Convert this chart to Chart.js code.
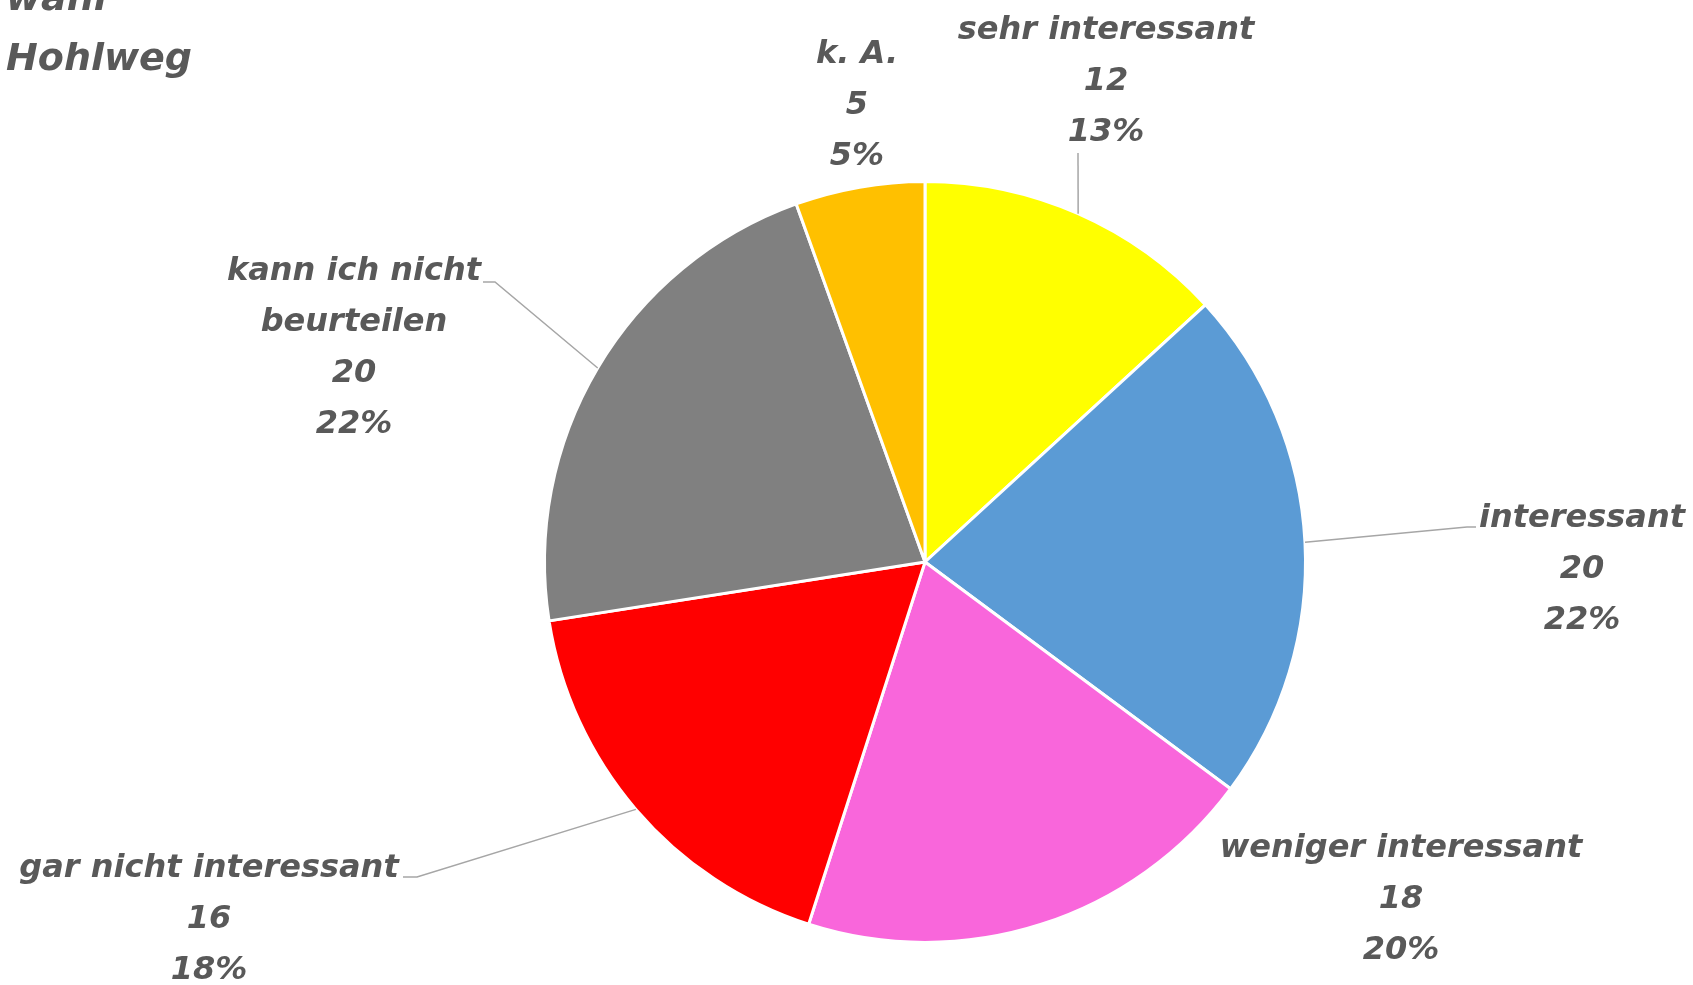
<!DOCTYPE html>
<html>
<head>
<meta charset="utf-8">
<script src="https://cdn.jsdelivr.net/npm/chart.js@4.4.1/dist/chart.umd.min.js"></script>
<style>
    html, body { margin: 0; padding: 0; background: #fff; }
    #wrap { width: 1693px; height: 985px; position: relative; }
</style>
</head>
<body>
<div id="wrap"><canvas id="pie"></canvas></div>
<script>
// Chart data
const categories = ['sehr interessant', 'interessant', 'weniger interessant', 'gar nicht interessant', ['kann ich nicht', 'beurteilen'], 'k. A.'];
const counts = [12, 20, 18, 16, 20, 5];
const sliceColors = ['#FFFF00', '#5B9BD5', '#F966DB', '#FF0000', '#808080', '#FFC000'];
const titleLines = ['wahl', 'Hohlweg'];

const textColor = '#595959';
const labelFont = 'italic bold 32px "DejaVu Sans"';
const lineGap = 51;

// label spot: centre x, centre y of first line, and leader bend points (last one joins the slice)
const labelSpots = [
    { x: 1106, y: 31, leader: [[1078, 153]] },
    { x: 1582, y: 519, leader: [[1476, 527], [1467, 527]] },
    { x: 1401, y: 849, leader: null },
    { x: 209, y: 869, leader: [[403, 877], [417, 877]] },
    { x: 354, y: 272, leader: [[483, 282], [495, 282]] },
    { x: 857, y: 55, leader: null }
];

const labelPlugin = {
    id: 'pieLabels',
    afterDatasetsDraw(chart) {
        const ctx = chart.ctx;
        const meta = chart.getDatasetMeta(0);
        const total = counts.reduce((a, b) => a + b, 0);
        ctx.save();

        // leader lines
        ctx.strokeStyle = '#A6A6A6';
        ctx.lineWidth = 1.5;
        meta.data.forEach((arc, i) => {
            const spot = labelSpots[i];
            if (!spot.leader) return;
            const mid = (arc.startAngle + arc.endAngle) / 2;
            const ex = arc.x + Math.cos(mid) * arc.outerRadius;
            const ey = arc.y + Math.sin(mid) * arc.outerRadius;
            ctx.beginPath();
            ctx.moveTo(spot.leader[0][0], spot.leader[0][1]);
            spot.leader.slice(1).forEach(p => ctx.lineTo(p[0], p[1]));
            ctx.lineTo(ex, ey);
            ctx.stroke();
        });

        // label texts
        ctx.fillStyle = textColor;
        ctx.font = labelFont;
        ctx.textAlign = 'center';
        ctx.textBaseline = 'middle';
        counts.forEach((v, i) => {
            const name = [].concat(categories[i]);
            const lines = [...name, String(v), Math.round(v / total * 100) + '%'];
            lines.forEach((t, k) => {
                ctx.fillText(t, labelSpots[i].x, labelSpots[i].y + k * lineGap);
            });
        });

        // title, cut off at the top like the original
        ctx.font = 'italic bold 38px "DejaVu Sans"';
        ctx.textAlign = 'left';
        titleLines.forEach((t, k) => {
            ctx.fillText(t, 6, 0 + k * 60);
        });
        ctx.restore();
    }
};

new Chart(document.getElementById('pie'), {
    type: 'pie',
    data: {
        labels: categories,
        datasets: [{
            data: counts,
            backgroundColor: sliceColors,
            borderColor: '#ffffff',
            borderWidth: 3
        }]
    },
    options: {
        responsive: true,
        maintainAspectRatio: false,
        animation: false,
        layout: {
            padding: { top: 180, bottom: 41, left: 543, right: 386 }
        },
        plugins: {
            legend: { display: false },
            tooltip: { enabled: false },
            title: { display: false }
        }
    },
    plugins: [labelPlugin]
});
</script>
</body>
</html>
